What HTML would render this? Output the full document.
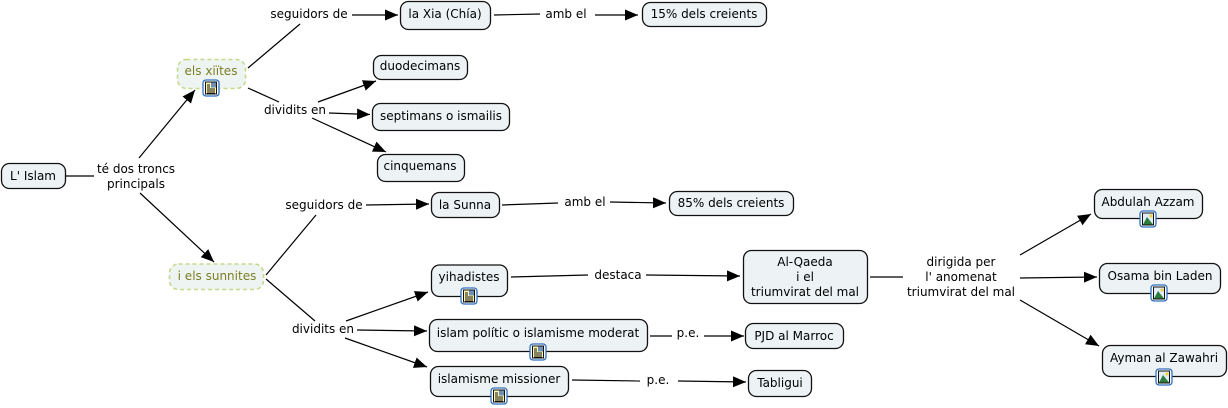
<!DOCTYPE html>
<html><head><meta charset="utf-8"><style>
html,body{margin:0;padding:0;background:#fff}
svg{display:block}
text{font-family:"DejaVu Sans",sans-serif;font-size:12px;fill:#000;text-anchor:middle}
.n{fill:#edf3f5;stroke:#111;stroke-width:1.3}
.g{fill:#eef4f1;stroke:#c4d98c;stroke-width:1.6;stroke-dasharray:4 3}
.gt{fill:#7d7d25}
.l{stroke:#000;stroke-width:1.2;fill:none}
.a{stroke:#000;stroke-width:1.2;fill:none;marker-end:url(#m)}
</style></head><body>
<svg width="1228" height="408" viewBox="0 0 1228 408" xmlns="http://www.w3.org/2000/svg">
<defs>
<marker id="m" markerUnits="userSpaceOnUse" markerWidth="14" markerHeight="12" refX="13" refY="5.5" orient="auto"><path d="M0 0L13 5.500L0 11Z" fill="#000"/></marker>
<g id="doc"><rect x="-8" y="-8" width="16" height="16" rx="3" fill="#fff" stroke="#2f6fc0" stroke-width="1.3"/><rect x="-5.500" y="-6" width="11" height="12" fill="#fbf6b0" stroke="#111" stroke-width="1"/><rect x="0" y="-5.500" width="5" height="5" fill="#6f8fb5"/><path d="M-4-3h3M-4-1h3M-4 1h8M-4 3h8M-4 5h8" stroke="#111" stroke-width=".9"/></g>
<g id="pic"><rect x="-8" y="-8" width="16" height="16" rx="3" fill="#fff" stroke="#2f6fc0" stroke-width="1.3"/><rect x="-5.500" y="-6" width="11" height="12" fill="#dfeef8" stroke="#111" stroke-width="1"/><path d="M-5 5.500L-1-2L5 5.500Z" fill="#2f7d3c"/><circle cx="3" cy="-3" r="1.600" fill="#f0d040"/></g>
</defs>

<path class="l" d="M66 176H94"/>
<path class="a" d="M139 158L195 90"/>
<path class="a" d="M140 193L214 262"/>
<path class="l" d="M248 68L300 24"/>
<path class="l" d="M248 88L279 102"/>
<path class="a" d="M352 15H398"/>
<path class="a" d="M318 102L376 81"/>
<path class="a" d="M329 113L370 114.500"/>
<path class="a" d="M312 118L386 152"/>
<path class="l" d="M494 15L540 14"/>
<path class="a" d="M595 15H638"/>
<path class="l" d="M266 275L316 215"/>
<path class="l" d="M266 279L315 321"/>
<path class="a" d="M366 205L429 204"/>
<path class="l" d="M502 205L558 203"/>
<path class="a" d="M610 202L666 203"/>
<path class="a" d="M346 321L428 292"/>
<path class="a" d="M357 330L427 331"/>
<path class="a" d="M345 338L427 367"/>
<path class="l" d="M511 277L588 275"/>
<path class="a" d="M646 275L740 276"/>
<path class="l" d="M650 336H672"/>
<path class="a" d="M704 336H744"/>
<path class="l" d="M572 380L640 381"/>
<path class="a" d="M678 381L746 382"/>
<path class="l" d="M870 277H903"/>
<path class="a" d="M1020 255L1091 214"/>
<path class="a" d="M1020 278L1097 277"/>
<path class="a" d="M1020 300L1099 346"/>

<rect class="n" x="1.500" y="163.500" width="64" height="25" rx="8"/><text x="33" y="180">L' Islam</text>
<rect class="g" x="177.500" y="59.500" width="68" height="29" rx="9"/><text class="gt" x="211" y="75">els xiïtes</text>
<rect class="g" x="169.500" y="264" width="94" height="25.500" rx="9"/><text class="gt" x="217" y="280">i els sunnites</text>
<rect class="n" x="400.500" y="1.500" width="90" height="28" rx="8"/><text x="445" y="18">la Xia (Chía)</text>
<rect class="n" x="642.500" y="2.500" width="124" height="24" rx="8"/><text x="704" y="18">15% dels creients</text>
<rect class="n" x="373.500" y="55.500" width="94" height="24" rx="8"/><text x="420" y="70">duodecimans</text>
<rect class="n" x="372.500" y="103.500" width="137" height="27" rx="8"/><text x="441" y="120">septimans o ismailis</text>
<rect class="n" x="377.500" y="154.500" width="87" height="27" rx="8"/><text x="420" y="170">cinquemans</text>
<rect class="n" x="431.500" y="192.500" width="68" height="25" rx="8"/><text x="465" y="209">la Sunna</text>
<rect class="n" x="669.500" y="191.500" width="124" height="24" rx="8"/><text x="731" y="207">85% dels creients</text>
<rect class="n" x="431.500" y="265" width="76" height="31.500" rx="8"/><text x="469" y="281">yihadistes</text>
<rect class="n" x="429.500" y="319.500" width="218" height="32" rx="8"/><text x="538" y="337">islam polític o islamisme moderat</text>
<rect class="n" x="430.500" y="366.500" width="138" height="30" rx="8"/><text x="499" y="383">islamisme missioner</text>
<rect class="n" x="743.500" y="250.500" width="124" height="53" rx="8"/>
<text x="805" y="266">Al-Qaeda</text><text x="805" y="281">i el</text><text x="805" y="296">triumvirat del mal</text>
<rect class="n" x="745.500" y="323.500" width="98" height="25" rx="8"/><text x="794" y="340">PJD al Marroc</text>
<rect class="n" x="748.500" y="370.500" width="63" height="26" rx="8"/><text x="780" y="387">Tabligui</text>
<rect class="n" x="1094.500" y="189.500" width="108" height="29" rx="8"/><text x="1148" y="206">Abdulah Azzam</text>
<rect class="n" x="1099.500" y="263.500" width="121" height="30" rx="8"/><text x="1160" y="280">Osama bin Laden</text>
<rect class="n" x="1102.500" y="345.500" width="124" height="31" rx="8"/><text x="1164" y="362">Ayman al Zawahri</text>

<text x="136" y="173">té dos troncs</text><text x="136" y="188">principals</text>
<text x="309" y="18">seguidors de</text>
<text x="295" y="114">dividits en</text>
<text x="566" y="18">amb el</text>
<text x="324" y="209">seguidors de</text>
<text x="585" y="206">amb el</text>
<text x="323" y="333">dividits en</text>
<text x="618" y="279">destaca</text>
<text x="688" y="337">p.e.</text>
<text x="658" y="384">p.e.</text>
<text x="961" y="266">dirigida per</text><text x="961" y="281">l' anomenat</text><text x="961" y="296">triumvirat del mal</text>

<use href="#doc" x="211" y="88"/>
<use href="#doc" x="469" y="296"/>
<use href="#doc" x="538" y="352"/>
<use href="#doc" x="499" y="396"/>
<use href="#pic" x="1148" y="219"/>
<use href="#pic" x="1159" y="293"/>
<use href="#pic" x="1164" y="377"/>
</svg>
</body></html>
